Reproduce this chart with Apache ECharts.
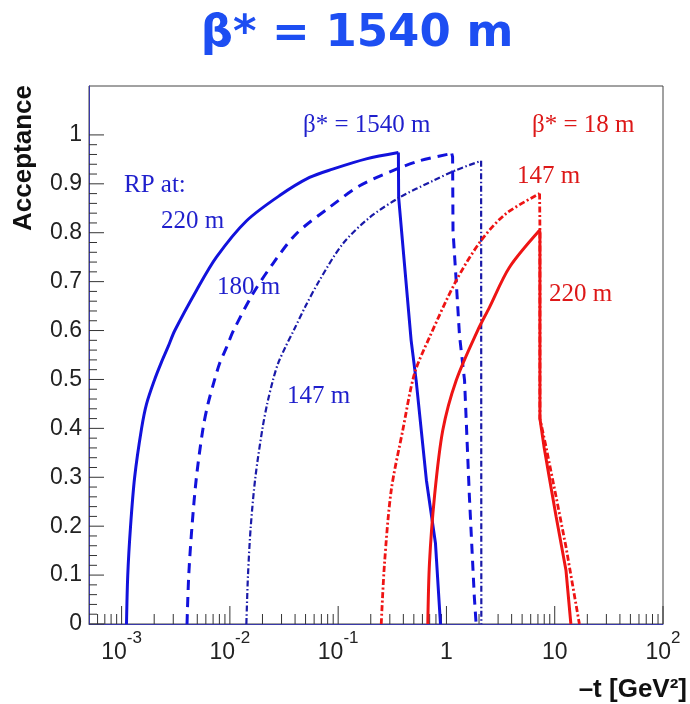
<!DOCTYPE html>
<html>
<head>
<meta charset="utf-8">
<script src="https://cdn.jsdelivr.net/npm/echarts@6/dist/echarts.min.js"></script>
<style>
  html, body { margin: 0; padding: 0; background: #fff; }
  #main { width: 690px; height: 704px; }
</style>
</head>
<body>
<div id="main"></div>
<script>
// values: -t [GeV^2] and acceptance
// beta* = 1540 m, RP at 220 m (solid)
const b1540rp220T = [0.00111, 0.00114, 0.00121, 0.00132, 0.00153, 0.0017, 0.00202, 0.00233, 0.00269, 0.0031, 0.00491, 0.00751, 0.0142, 0.0288, 0.0544, 0.0888, 0.182, 0.36, 0.362, 0.472, 0.525, 0.653, 0.792, 0.881];
const b1540rp220A = [0, 0.1, 0.2, 0.3, 0.4, 0.45, 0.5, 0.535, 0.567, 0.6, 0.682, 0.75, 0.824, 0.876, 0.913, 0.93, 0.951, 0.964, 0.872, 0.58, 0.498, 0.294, 0.165, 0];
// beta* = 1540 m, RP at 180 m (dashed)
const b1540rp180T = [0.00402, 0.00417, 0.00447, 0.00491, 0.00565, 0.00628, 0.00724, 0.00805, 0.00929, 0.0108, 0.0163, 0.025, 0.0411, 0.0833, 0.158, 0.32, 0.563, 1.12, 1.14, 1.15, 1.23, 1.32, 1.47, 1.63, 1.81, 1.88];
const b1540rp180A = [0, 0.1, 0.2, 0.3, 0.4, 0.45, 0.5, 0.533, 0.565, 0.6, 0.675, 0.737, 0.798, 0.852, 0.896, 0.927, 0.947, 0.962, 0.955, 0.804, 0.702, 0.59, 0.498, 0.26, 0.055, 0];
// beta* = 1540 m, RP at 147 m (dash-dot)
const b1540rp147T = [0.0142, 0.0147, 0.0156, 0.0172, 0.02, 0.0221, 0.0251, 0.0279, 0.0327, 0.0388, 0.05, 0.0674, 0.11, 0.195, 0.368, 0.748, 1.23, 2.09, 2.1];
const b1540rp147A = [0, 0.1, 0.2, 0.3, 0.4, 0.45, 0.5, 0.533, 0.567, 0.6, 0.65, 0.703, 0.777, 0.831, 0.872, 0.906, 0.928, 0.947, 0];
// beta* = 18 m, RP at 147 m (dash-dot)
const b18rp147T = [0.25, 0.268, 0.309, 0.395, 0.507, 0.697, 1.23, 2.09, 3.55, 7.25, 7.3, 7.3, 8.32, 10.3, 12.7, 16.9];
const b18rp147A = [0, 0.124, 0.273, 0.396, 0.512, 0.586, 0.702, 0.784, 0.839, 0.88, 0.81, 0.42, 0.362, 0.26, 0.158, 0];
// beta* = 18 m, RP at 220 m (solid)
const b18rp220T = [0.673, 0.697, 0.775, 0.925, 1.23, 1.94, 2.49, 3.81, 7.25, 7.3, 7.3, 8.0, 8.9, 10.3, 12.7, 14.1];
const b18rp220A = [0, 0.124, 0.26, 0.396, 0.498, 0.6, 0.647, 0.729, 0.805, 0.8, 0.42, 0.36, 0.3, 0.22, 0.11, 0];

const xMin = 5e-4, xMax = 100;
const xDecades = [-4, -3, -2, -1, 0, 1];
const xSubSteps = [2, 3, 4, 5, 6, 7, 8, 9];
const yMajorStep = 0.1, yMinorStep = 0.02, yTickTop = 1;

const blue = '#1212dc';
const blueDark = '#1a1aa8';
const red = '#ee1414';

function pairs(ts, as) {
  return ts.map((t, i) => [t, as[i]]);
}

// each curve: smooth rising edge up to its maximum, straight drop after it
function curveSeries(name, ts, as, lineStyle) {
  const pts = pairs(ts, as);
  let peak = 0;
  as.forEach((a, i) => { if (a > as[peak]) peak = i; });
  return [
    {
      name: name, type: 'line', symbol: 'none', z: 3,
      smooth: 0.3,
      data: pts.slice(0, peak + 1), lineStyle: lineStyle
    },
    {
      name: name, type: 'line', symbol: 'none', z: 3,
      data: pts.slice(peak), lineStyle: lineStyle
    }
  ];
}

// tick marks: [x, y, kind] kind 0/1 = x major/minor, 2/3 = y major/minor
const tickData = [];
xDecades.forEach(n => {
  const base = Math.pow(10, n);
  if (base >= xMin) tickData.push([base, 0, 0]);
  xSubSteps.forEach(k => {
    const v = k * base;
    if (v > xMin && v < xMax) tickData.push([v, 0, 1]);
  });
});
tickData.push([xMax, 0, 0]);
for (let i = 0; i <= Math.round(yTickTop / yMinorStep); i++) {
  const y = +(i * yMinorStep).toFixed(2);
  const major = Math.abs(y / yMajorStep - Math.round(y / yMajorStep)) < 1e-6;
  tickData.push([xMin, y, major ? 2 : 3]);
}
const tickLen = [18, 10, 15, 8];

var myChart = echarts.init(document.getElementById('main'));

const serifText = (text, x, y, color) => ({
  type: 'text', x: x, y: y,
  style: { text: text, fill: color, font: '25px "Liberation Serif"', textVerticalAlign: 'bottom' }
});

var option = {
  animation: false,
  grid: {
    left: 89, right: 27, top: 86, bottom: 80,
    show: true, borderColor: '#444', borderWidth: 1
  },
  xAxis: {
    type: 'log', logBase: 10, min: xMin, max: xMax,
    axisLine: { lineStyle: { color: '#3a3aa8', width: 1 } },
    axisTick: { show: false },
    splitLine: { show: false },
    axisLabel: {
      margin: 6,
      showMinLabel: false,
      formatter: function (v) {
        const n = Math.round(Math.log10(v));
        if (Math.abs(Math.log10(v) - n) > 1e-6) return '';
        if (n === 0) return '{b|1}';
        if (n === 1) return '{b|10}';
        return '{b|10}{s|' + n + '}';
      },
      rich: {
        b: { fontSize: 23, fontFamily: 'Liberation Sans', color: '#222', lineHeight: 34, verticalAlign: 'bottom' },
        s: { fontSize: 17, fontFamily: 'Liberation Sans', color: '#222', lineHeight: 34, verticalAlign: 'top' }
      }
    }
  },
  yAxis: {
    type: 'value', min: 0, max: 1.1, interval: yMajorStep,
    axisLine: { show: true, lineStyle: { color: '#3a3aa8', width: 1 } },
    axisTick: { show: false },
    splitLine: { show: false },
    axisLabel: {
      margin: 7, fontSize: 23, fontFamily: 'Liberation Sans', color: '#222',
      formatter: function (v) { return v > 1.05 ? '' : String(+v.toFixed(1)); }
    }
  },
  graphic: [
    {
      type: 'text', x: 357, y: 34,
      style: { text: 'β* = 1540 m', fill: '#1d4ef2', font: 'bold 45px "DejaVu Sans"', textAlign: 'center', textVerticalAlign: 'middle' }
    },
    {
      type: 'text', x: 24, y: 85, rotation: Math.PI / 2,
      style: { text: 'Acceptance', fill: '#111', font: 'bold 26px "Liberation Sans"', textAlign: 'right', textVerticalAlign: 'middle' }
    },
    {
      type: 'text', x: 687, y: 690,
      style: { text: '–t [GeV²]', fill: '#111', font: 'bold 26px "Liberation Sans"', textAlign: 'right', textVerticalAlign: 'middle' }
    },
    serifText('β* = 1540 m', 303, 138, '#1f1fcc'),
    serifText('RP at:', 124, 198, '#1f1fcc'),
    serifText('220 m', 161, 234, '#1f1fcc'),
    serifText('180 m', 217, 300, '#1f1fcc'),
    serifText('147 m', 287, 409, '#1f1fcc'),
    serifText('β* = 18 m', 532, 138, '#dd1818'),
    serifText('147 m', 517, 189, '#dd1818'),
    serifText('220 m', 549, 307, '#dd1818')
  ],
  series: [
    {
      type: 'custom', silent: true, z: 1,
      data: tickData,
      renderItem: function (params, api) {
        const kind = api.value(2);
        const p = api.coord([api.value(0), api.value(1)]);
        const len = tickLen[kind];
        const shape = kind < 2
          ? { x1: p[0], y1: p[1], x2: p[0], y2: p[1] - len }
          : { x1: p[0], y1: p[1], x2: p[0] + len, y2: p[1] };
        return { type: 'line', shape: shape, style: { stroke: '#333', lineWidth: 1 } };
      }
    }
  ].concat(
    curveSeries('1540 m, 220 m', b1540rp220T, b1540rp220A, { color: blue, width: 3 }),
    curveSeries('1540 m, 180 m', b1540rp180T, b1540rp180A, { color: blue, width: 3, type: [10, 7] }),
    curveSeries('1540 m, 147 m', b1540rp147T, b1540rp147A, { color: blueDark, width: 2.2, type: [6, 2.5, 1.5, 2.5] }),
    curveSeries('18 m, 147 m', b18rp147T, b18rp147A, { color: red, width: 2.8, type: [6, 2.5, 2, 2.5] }),
    curveSeries('18 m, 220 m', b18rp220T, b18rp220A, { color: red, width: 3 })
  )
};
myChart.setOption(option);
</script>
</body>
</html>
